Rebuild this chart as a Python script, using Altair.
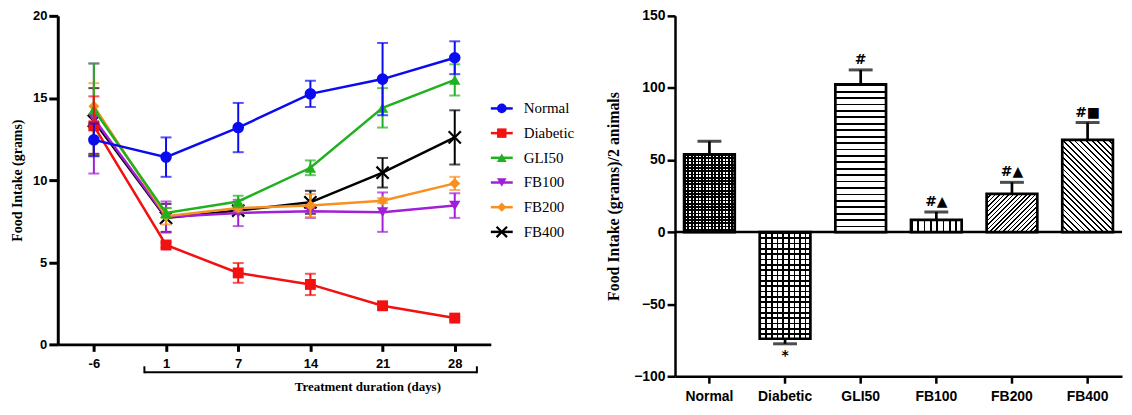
import math
import altair as alt
import pandas as pd

# ---------------- data ----------------
days = ["-6", "1", "7", "14", "21", "28"]
groups = ["Normal", "Diabetic", "GLI50", "FB100", "FB200", "FB400"]

normal_mean = [12.45, 11.4, 13.2, 15.25, 16.15, 17.45]
normal_sem = [1.0, 1.2, 1.5, 0.8, 2.2, 1.0]
diabetic_mean = [13.3, 6.05, 4.35, 3.65, 2.35, 1.6]
diabetic_sem = [1.8, 0.15, 0.6, 0.65, 0.1, 0.1]
gli50_mean = [14.3, 8.0, 8.7, 10.75, 14.4, 16.1]
gli50_sem = [2.8, 0.3, 0.35, 0.45, 1.2, 0.95]
fb100_mean = [13.75, 7.75, 8.0, 8.1, 8.05, 8.45]
fb100_sem = [3.35, 0.95, 0.8, 0.4, 1.2, 0.75]
fb200_mean = [14.5, 7.8, 8.3, 8.45, 8.75, 9.8]
fb200_sem = [1.4, 0.5, 0.2, 0.7, 0.15, 0.4]
fb400_mean = [13.6, 7.7, 8.15, 8.65, 10.45, 12.6]
fb400_sem = [2.0, 0.85, 0.2, 0.7, 0.9, 1.65]

bar_mean = [54, -74, 102.5, 8.5, 26.5, 64]
bar_err = [9, 3.5, 10, 5.5, 8, 12]
bar_notes = ["", "*", "#", "#▲", "#▲", "#■"]

# ---------------- styles ----------------
colors = {"Normal": "#0B0BF0", "Diabetic": "#F21010", "GLI50": "#20B020",
          "FB100": "#A020D8", "FB200": "#F79020", "FB400": "#000000"}
XPATH = "M-1,-1L1,1M-1,1L1,-1"
shapes = {"Normal": "circle", "Diabetic": "square", "GLI50": "triangle-up",
          "FB100": "triangle-down", "FB200": "diamond", "FB400": XPATH}
sizes = {"Normal": 135, "Diabetic": 120, "GLI50": 130, "FB100": 130, "FB200": 120, "FB400": 150}
leg_sizes = {"Normal": 95, "Diabetic": 90, "GLI50": 95, "FB100": 95, "FB200": 85, "FB400": 110}
draw_order = ["FB400", "FB100", "FB200", "GLI50", "Diabetic", "Normal"]

means = [normal_mean, diabetic_mean, gli50_mean, fb100_mean, fb200_mean, fb400_mean]
sems = [normal_sem, diabetic_sem, gli50_sem, fb100_sem, fb200_sem, fb400_sem]
rows = []
for g, m, s in zip(groups, means, sems):
    for d, mv, sv in zip(days, m, s):
        rows.append({"group": g, "day": d, "mean": mv, "lo": mv - sv, "hi": mv + sv})
line_df = pd.DataFrame(rows)
leg_df = pd.DataFrame({"group": groups})
one_df = pd.DataFrame({"a": [0]})

SANS = "Liberation Sans"
SERIF = "Liberation Serif"

# ---------------- left chart ----------------
LW, LH = 435, 330
x_axis_l = alt.Axis(title="Treatment duration (days)", labelAngle=0, labelFont=SANS,
                    labelFontWeight="bold", labelFontSize=13, labelColor="black",
                    domainColor="black", domainWidth=3, tickColor="black", tickWidth=3,
                    tickSize=7, labelPadding=6, titleFont=SERIF, titleFontWeight="bold",
                    titleFontSize=13, titleColor="black", titleX=311, titleY=42,
                    titleAlign="center", titleBaseline="middle", titleAnchor="start")
y_axis_l = alt.Axis(title="Food Intake (grams)", values=[0, 5, 10, 15, 20], grid=False,
                    labelFont=SANS, labelFontWeight="bold", labelFontSize=13,
                    labelColor="black", domainColor="black", domainWidth=3,
                    tickColor="black", tickWidth=3, tickSize=9, labelPadding=2,
                    titleFont=SERIF, titleFontWeight="bold", titleFontSize=14,
                    titleColor="black", titlePadding=8)
x_l = alt.X("day:N", sort=days, scale=alt.Scale(type="point", domain=days, padding=0.5),
            axis=x_axis_l)
y_scale_l = alt.Scale(domain=[0, 20], nice=False)


def yl(field):
    return alt.Y(field, type="quantitative", scale=y_scale_l, axis=y_axis_l)


data_layers = []
for g in draw_order:
    c = colors[g]
    base = alt.Chart(line_df).transform_filter(alt.datum.group == g)
    data_layers.append(base.mark_rule(color=c, strokeWidth=2).encode(x=x_l, y=yl("lo"), y2="hi:Q"))
    data_layers.append(base.mark_tick(color=c, thickness=2, size=11).encode(x=x_l, y=yl("lo")))
    data_layers.append(base.mark_tick(color=c, thickness=2, size=11).encode(x=x_l, y=yl("hi")))
    data_layers.append(base.mark_line(color=c, strokeWidth=2.5).encode(x=x_l, y=yl("mean")))
    if g == "FB400":
        pt = base.mark_point(shape=XPATH, filled=False, color=c, strokeWidth=2.2,
                             size=sizes[g], opacity=1)
    else:
        pt = base.mark_point(shape=shapes[g], filled=True, color=c, size=sizes[g], opacity=1)
    data_layers.append(pt.encode(x=x_l, y=yl("mean")))

# bracket under the x axis
br = alt.Chart(one_df)
data_layers.append(br.mark_rule(color="black", strokeWidth=2).encode(
    x=alt.value(87), x2=alt.value(421), y=alt.value(LH + 28)))
data_layers.append(br.mark_rule(color="black", strokeWidth=2).encode(
    x=alt.value(87), y=alt.value(LH + 22), y2=alt.value(LH + 29)))
data_layers.append(br.mark_rule(color="black", strokeWidth=2).encode(
    x=alt.value(421), y=alt.value(LH + 22), y2=alt.value(LH + 29)))

left_data = alt.layer(*data_layers).properties(width=LW, height=LH)

# legend (manual, line + marker + label)
y_leg = alt.Y("group:N", sort=groups,
              scale=alt.Scale(type="point", domain=groups, range=[93, 217], padding=0),
              axis=None)
leg_layers = []
for g in groups:
    c = colors[g]
    b = alt.Chart(leg_df).transform_filter(alt.datum.group == g)
    leg_layers.append(b.mark_rule(color=c, strokeWidth=2.5).encode(
        x=alt.value(LW), x2=alt.value(LW + 22), y=y_leg))
    if g == "FB400":
        p = b.mark_point(shape=XPATH, filled=False, color=c, strokeWidth=2.2,
                         size=leg_sizes[g], opacity=1)
    else:
        p = b.mark_point(shape=shapes[g], filled=True, color=c, size=leg_sizes[g], opacity=1)
    leg_layers.append(p.encode(x=alt.value(LW + 11), y=y_leg))
    leg_layers.append(b.mark_text(align="left", baseline="middle", font=SERIF, fontSize=15,
                                  color="black").encode(x=alt.value(LW + 33), y=y_leg,
                                                        text="group:N"))
legend = alt.layer(*leg_layers)

left = alt.layer(left_data, legend).resolve_scale(y="independent", x="independent")

# ---------------- right chart ----------------
RW, RH = 449, 362
P_IN, P_OUT = 0.33, 0.12
k = RH / 250.0
step = RW / (6 - P_IN + 2 * P_OUT)
bw = step * (1 - P_IN)

bars_df = pd.DataFrame({
    "group": groups,
    "mean": bar_mean,
    "tip": [m + (e if m >= 0 else -e) for m, e in zip(bar_mean, bar_err)],
    "note": bar_notes,
})

x_r = alt.X("group:N", sort=groups,
            scale=alt.Scale(domain=groups, paddingInner=P_IN, paddingOuter=P_OUT),
            axis=alt.Axis(title=None, labelAngle=0, labelFont=SANS, labelFontWeight="bold",
                          labelFontSize=14, labelColor="black", domainColor="black",
                          domainWidth=2.5, tickColor="black", tickWidth=2.5, tickSize=7,
                          labelPadding=6))
y_axis_r = alt.Axis(title="Food Intake (grams)/2 animals", values=[-100, -50, 0, 50, 100, 150],
                    grid=False, labelFont=SANS, labelFontWeight="bold", labelFontSize=14,
                    labelColor="black", domainColor="black", domainWidth=2.5,
                    tickColor="black", tickWidth=2.5, tickSize=8, labelPadding=2,
                    titleFont=SERIF, titleFontWeight="bold", titleFontSize=16,
                    titleColor="black", titlePadding=12)
y_scale_r = alt.Scale(domain=[-100, 150], nice=False)


def yr(field):
    return alt.Y(field, type="quantitative", scale=y_scale_r, axis=y_axis_r)


def stripe_stops(n, duty, on, off):
    st = []
    for i in range(n):
        a = round(i / n, 5)
        b = round((i + duty) / n, 5)
        e = round((i + 1) / n, 5)
        st += [alt.GradientStop(color=on, offset=a), alt.GradientStop(color=on, offset=b),
               alt.GradientStop(color=off, offset=b), alt.GradientStop(color=off, offset=e)]
    return st


def grad_h(h, period, lw, on="black", off="white"):
    n = max(1, round(h / period))
    return alt.LinearGradient(gradient="linear", x1=0, y1=0, x2=0, y2=1,
                              stops=stripe_stops(n, lw / (h / n), on, off))


def grad_v(w, period, lw, on="black", off="white"):
    n = max(1, round(w / period))
    return alt.LinearGradient(gradient="linear", x1=0, y1=0, x2=1, y2=0,
                              stops=stripe_stops(n, lw / (w / n), on, off))


def grad_diag(w, h, period, lw, down, on="black", off="white"):
    c = (w + h) / (w * w + h * h)
    span = (w + h) / math.sqrt(2)
    n = max(1, round(span / period))
    duty = lw / (span / n)
    if down:   # "\" stripes
        return alt.LinearGradient(gradient="linear", x1=0, y1=1, x2=round(c * w, 5),
                                  y2=round(1 - c * h, 5), stops=stripe_stops(n, duty, on, off))
    return alt.LinearGradient(gradient="linear", x1=0, y1=0, x2=round(c * w, 5),
                              y2=round(c * h, 5), stops=stripe_stops(n, duty, on, off))


TR = "rgba(0,0,0,0)"
hpx = {g: abs(m) * k for g, m in zip(groups, bar_mean)}
fills = {
    "Normal": [grad_h(hpx["Normal"], 3.3, 1.7), grad_v(bw, 3.3, 1.7, off=TR)],
    "Diabetic": [grad_h(hpx["Diabetic"], 5.4, 1.7), grad_v(bw, 5.4, 1.7, off=TR)],
    "GLI50": [grad_h(hpx["GLI50"], 6.5, 1.8)],
    "FB100": [grad_v(bw, 6.7, 1.6)],
    "FB200": [grad_diag(bw, hpx["FB200"], 3.1, 1.1, down=False)],
    "FB400": [grad_diag(bw, hpx["FB400"], 4.0, 1.3, down=True)],
}

rbase = alt.Chart(bars_df)
r_layers = [alt.Chart(one_df).mark_rule(color="black", strokeWidth=2.5).encode(y=alt.datum(0))]
for g in groups:
    for f in fills[g]:
        r_layers.append(rbase.transform_filter(alt.datum.group == g)
                        .mark_bar(fill=f, strokeWidth=0).encode(x=x_r, y=yr("mean")))
r_layers.append(rbase.mark_bar(fill="white", fillOpacity=0, stroke="black", strokeWidth=2.7)
                .encode(x=x_r, y=yr("mean")))
r_layers.append(rbase.mark_rule(color="black", strokeWidth=2.7)
                .encode(x=x_r, y=yr("mean"), y2="tip:Q"))
r_layers.append(rbase.mark_tick(color="black", thickness=3, size=24).encode(x=x_r, y=yr("tip")))
r_layers.append(rbase.transform_filter((alt.datum.mean > 0) & (alt.datum.note != ""))
                .mark_text(baseline="bottom", dy=-3, font="DejaVu Sans", fontWeight="bold",
                           fontSize=14, color="black")
                .encode(x=x_r, y=yr("tip"), text="note:N"))
r_layers.append(rbase.transform_filter(alt.datum.mean < 0)
                .mark_text(baseline="top", dy=5, font="DejaVu Sans", fontWeight="bold",
                           fontSize=14, color="black")
                .encode(x=x_r, y=yr("tip"), text="note:N"))

right = alt.layer(*r_layers).properties(width=RW, height=RH)

chart = (alt.hconcat(left, right, spacing=31)
         .properties(padding={"left": 2, "top": 0, "right": 0, "bottom": 0},
                     background="white")
         .configure_view(stroke=None))

chart.save("out.html", embed_options={"renderer": "svg", "actions": False})
